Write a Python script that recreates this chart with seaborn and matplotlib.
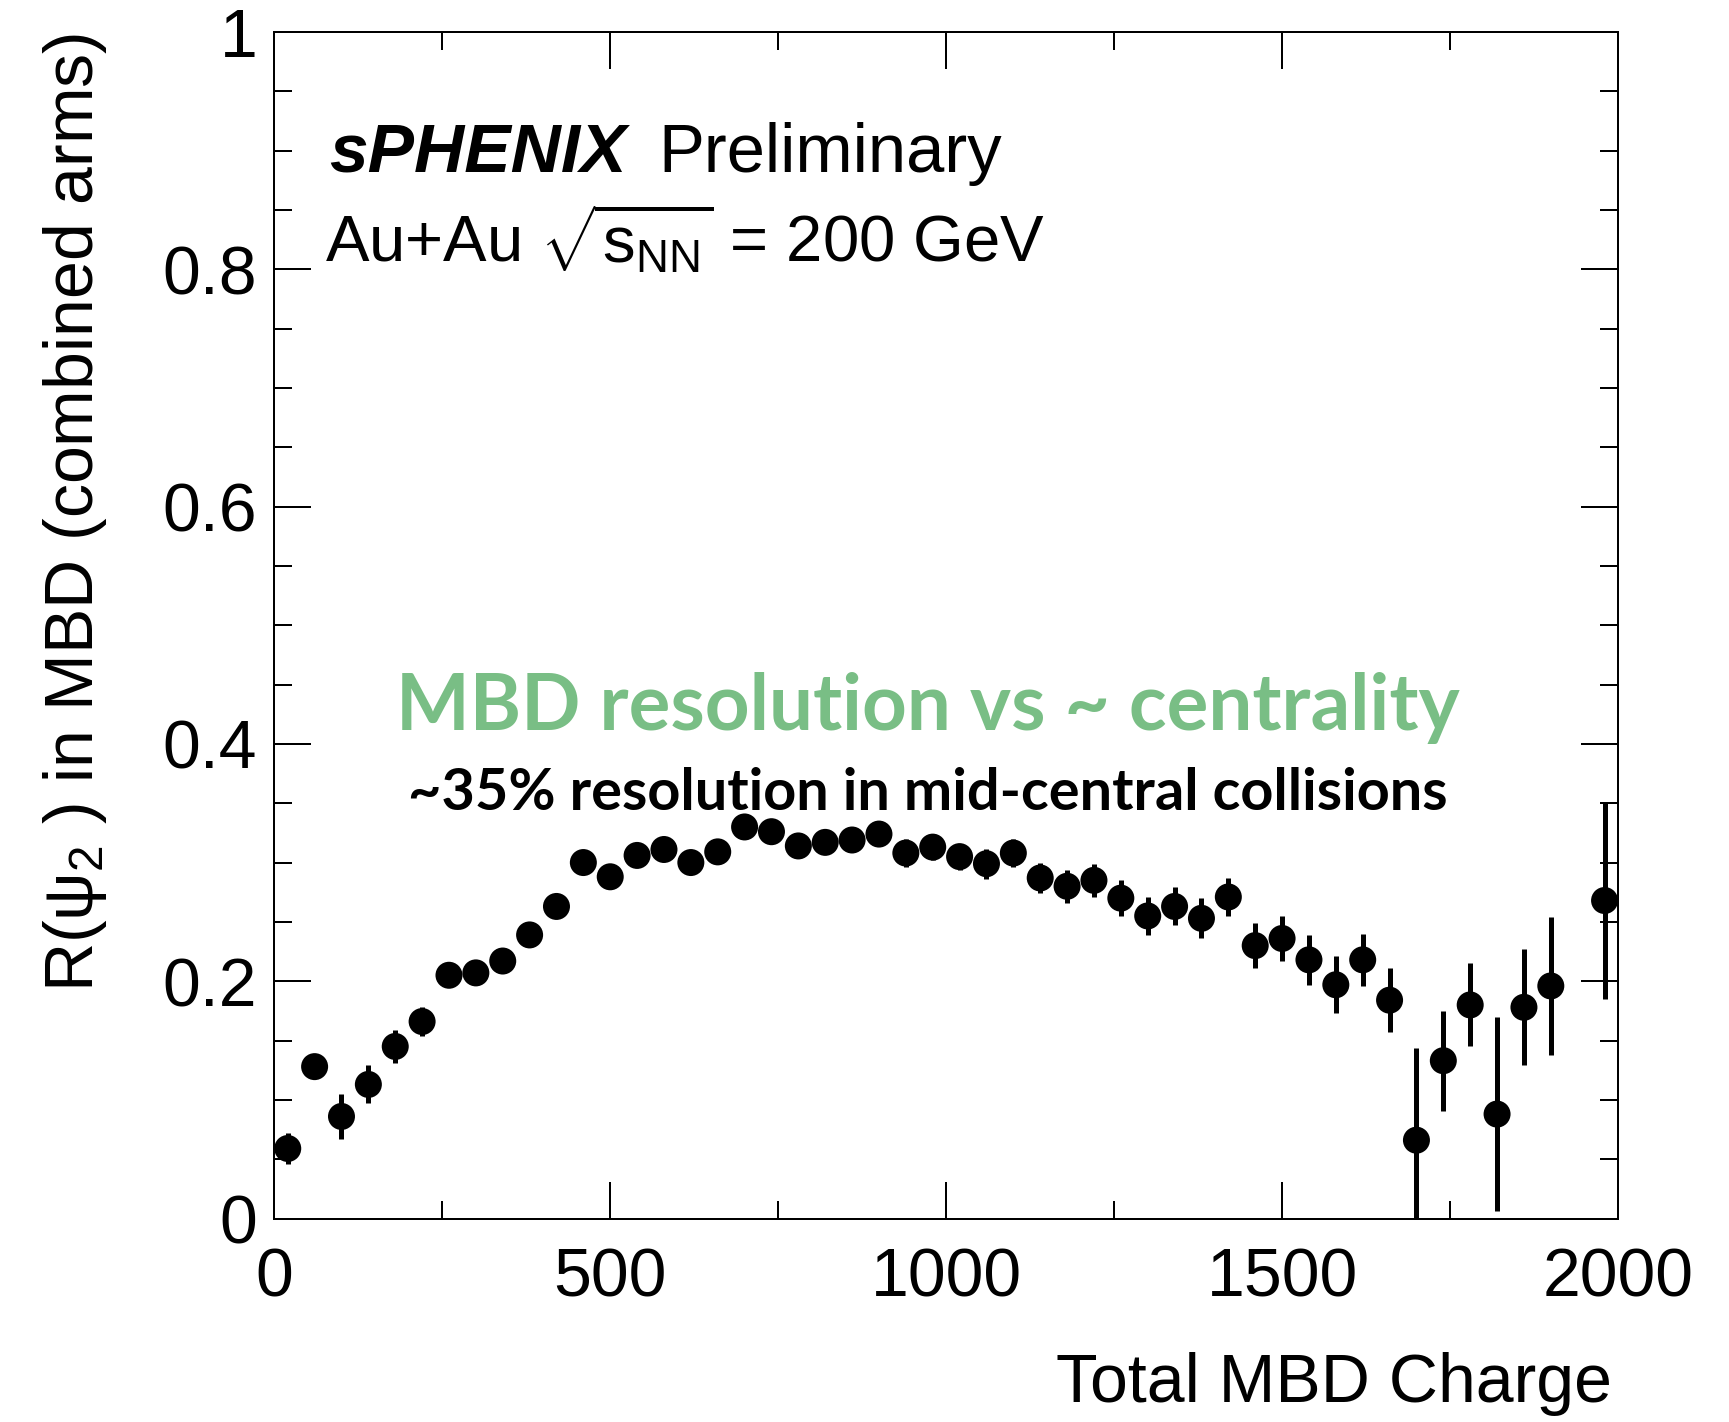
import matplotlib
matplotlib.use("Agg")
import matplotlib.pyplot as plt
import numpy as np
import pandas as pd
import seaborn as sns
from matplotlib.ticker import FixedLocator, FixedFormatter, MultipleLocator

# ---------------- data ----------------
charge = [20, 60, 100, 140, 180, 220, 260, 300, 340, 380, 420, 460, 500, 540,
          580, 620, 660, 700, 740, 780, 820, 860, 900, 940, 980, 1020, 1060,
          1100, 1140, 1180, 1220, 1260, 1300, 1340, 1380, 1420, 1460, 1500,
          1540, 1580, 1620, 1660, 1700, 1740, 1780, 1820, 1860, 1900, 1980]
resolution = [0.059, 0.128, 0.086, 0.113, 0.145, 0.166, 0.205, 0.207, 0.217,
              0.239, 0.263, 0.300, 0.288, 0.306, 0.311, 0.300, 0.309, 0.330,
              0.326, 0.314, 0.317, 0.319, 0.324, 0.308, 0.313, 0.305, 0.299,
              0.308, 0.287, 0.280, 0.285, 0.270, 0.255, 0.263, 0.253, 0.271,
              0.230, 0.236, 0.218, 0.197, 0.218, 0.184, 0.066, 0.133, 0.180,
              0.088, 0.178, 0.196, 0.268]
res_err = [0.013, 0.009, 0.019, 0.016, 0.014, 0.012, 0.010, 0.010, 0.010,
           0.010, 0.010, 0.010, 0.010, 0.010, 0.010, 0.010, 0.010, 0.010,
           0.010, 0.010, 0.010, 0.010, 0.010, 0.0115, 0.011, 0.011, 0.0125,
           0.012, 0.013, 0.014, 0.014, 0.015, 0.016, 0.016, 0.017, 0.016,
           0.019, 0.019, 0.021, 0.024, 0.022, 0.027, 0.078, 0.042, 0.035,
           0.082, 0.049, 0.058, 0.083]

x_ticks = [0, 500, 1000, 1500, 2000]
x_tick_labels = ["0", "500", "1000", "1500", "2000"]
y_ticks = [0, 0.2, 0.4, 0.6, 0.8, 1.0]
y_tick_labels = ["0", "0.2", "0.4", "0.6", "0.8", "1"]

x_label = "Total MBD Charge"
y_label = r"R(ψ$_{2}$ ) in MBD (combined arms)"
headline = "MBD resolution vs ~ centrality"
subline = "~35% resolution in mid-central collisions"

# ---------------- style ----------------
sns.set_theme(style="ticks")
plt.rcParams["font.family"] = ["Liberation Sans", "DejaVu Sans"]
plt.rcParams["mathtext.fontset"] = "custom"
plt.rcParams["mathtext.rm"] = "Liberation Sans"
plt.rcParams["mathtext.it"] = "Liberation Sans:italic"
plt.rcParams["mathtext.bf"] = "Liberation Sans:bold"

W, H = 1729, 1422
DPI = 100
PX = 72.0 / DPI  # points per pixel

fig = plt.figure(figsize=(W / DPI, H / DPI), dpi=DPI)
fig.patch.set_facecolor("white")

ax_l, ax_r, ax_t, ax_b = 274.3, 1618.0, 32.0, 1218.5
ax = fig.add_axes([ax_l / W, (H - ax_b) / H, (ax_r - ax_l) / W, (ax_b - ax_t) / H])
ax.set_facecolor("white")

df = pd.DataFrame({"charge": charge, "R": resolution, "err": res_err})

ax.errorbar(df["charge"], df["R"], yerr=df["err"], fmt="none", ecolor="black",
            elinewidth=5 * PX, capsize=0, zorder=2)
sns.scatterplot(data=df, x="charge", y="R", ax=ax, color="black", marker="o",
                s=(27 * PX) ** 2, edgecolor="none", linewidth=0, zorder=3,
                legend=False)

ax.set_xlim(0, 2000)
ax.set_ylim(0, 1)
ax.xaxis.set_major_locator(FixedLocator(x_ticks))
ax.xaxis.set_major_formatter(FixedFormatter(x_tick_labels))
ax.xaxis.set_minor_locator(MultipleLocator(250))
ax.yaxis.set_major_locator(FixedLocator(y_ticks))
ax.yaxis.set_major_formatter(FixedFormatter(y_tick_labels))
ax.yaxis.set_minor_locator(MultipleLocator(0.05))

for sp in ax.spines.values():
    sp.set_visible(True)
    sp.set_linewidth(2 * PX)
    sp.set_color("black")

ax.tick_params(which="both", direction="in", top=True, right=True,
               width=2 * PX, color="black", labelcolor="black")
ax.tick_params(which="major", length=37 * PX)
ax.tick_params(which="minor", length=18 * PX)
ax.tick_params(axis="y", which="major", labelsize=49, pad=17 * PX)
ax.tick_params(axis="x", which="major", labelsize=49, pad=28 * PX)
ax.grid(False)

ax.set_xlabel(x_label, fontsize=49, color="black")
ax.xaxis.label.set_ha("right")
ax.xaxis.label.set_va("center")
ax.xaxis.set_label_coords((1612 - ax_l) / (ax_r - ax_l), (ax_b - 1384) / (ax_b - ax_t))

ax.set_ylabel(y_label, fontsize=49, color="black")
ax.yaxis.label.set_ha("right")
ax.yaxis.label.set_va("center")
ax.yaxis.set_label_coords((75 - ax_l) / (ax_r - ax_l), (ax_b - 33) / (ax_b - ax_t))

# ---------------- annotations ----------------
def fx(px):
    return px / W

def fy(py):
    return 1 - py / H

fig.text(fx(329), fy(171.5), "sPHENIX", fontsize=50, fontweight="bold",
         fontstyle="italic", va="baseline", ha="left", color="black")
fig.text(fx(658), fy(171.5), "Preliminary", fontsize=49.5, va="baseline",
         ha="left", color="black")
fig.text(fx(325), fy(262.5), r"Au+Au $\sqrt{\mathrm{s}_{\mathrm{NN}}}$ = 200 GeV",
         fontsize=47, va="baseline", ha="left", color="black")

t1 = fig.text(fx(928), fy(708), headline, fontsize=50, fontweight="bold",
              family=["Lato", "DejaVu Sans"], color="#79BE85", ha="center",
              va="center")
t2 = fig.text(fx(928), fy(793), subline, fontsize=40, fontweight="bold",
              family=["Lato", "DejaVu Sans"], color="black", ha="center",
              va="center")

fig.canvas.draw()
r = fig.canvas.get_renderer()
for t, target in ((t1, 1066.0), (t2, 1040.0)):
    w = t.get_window_extent(r).width
    t.set_fontsize(t.get_fontsize() * target / w)

fig.savefig("out.png", dpi=DPI, facecolor="white")
